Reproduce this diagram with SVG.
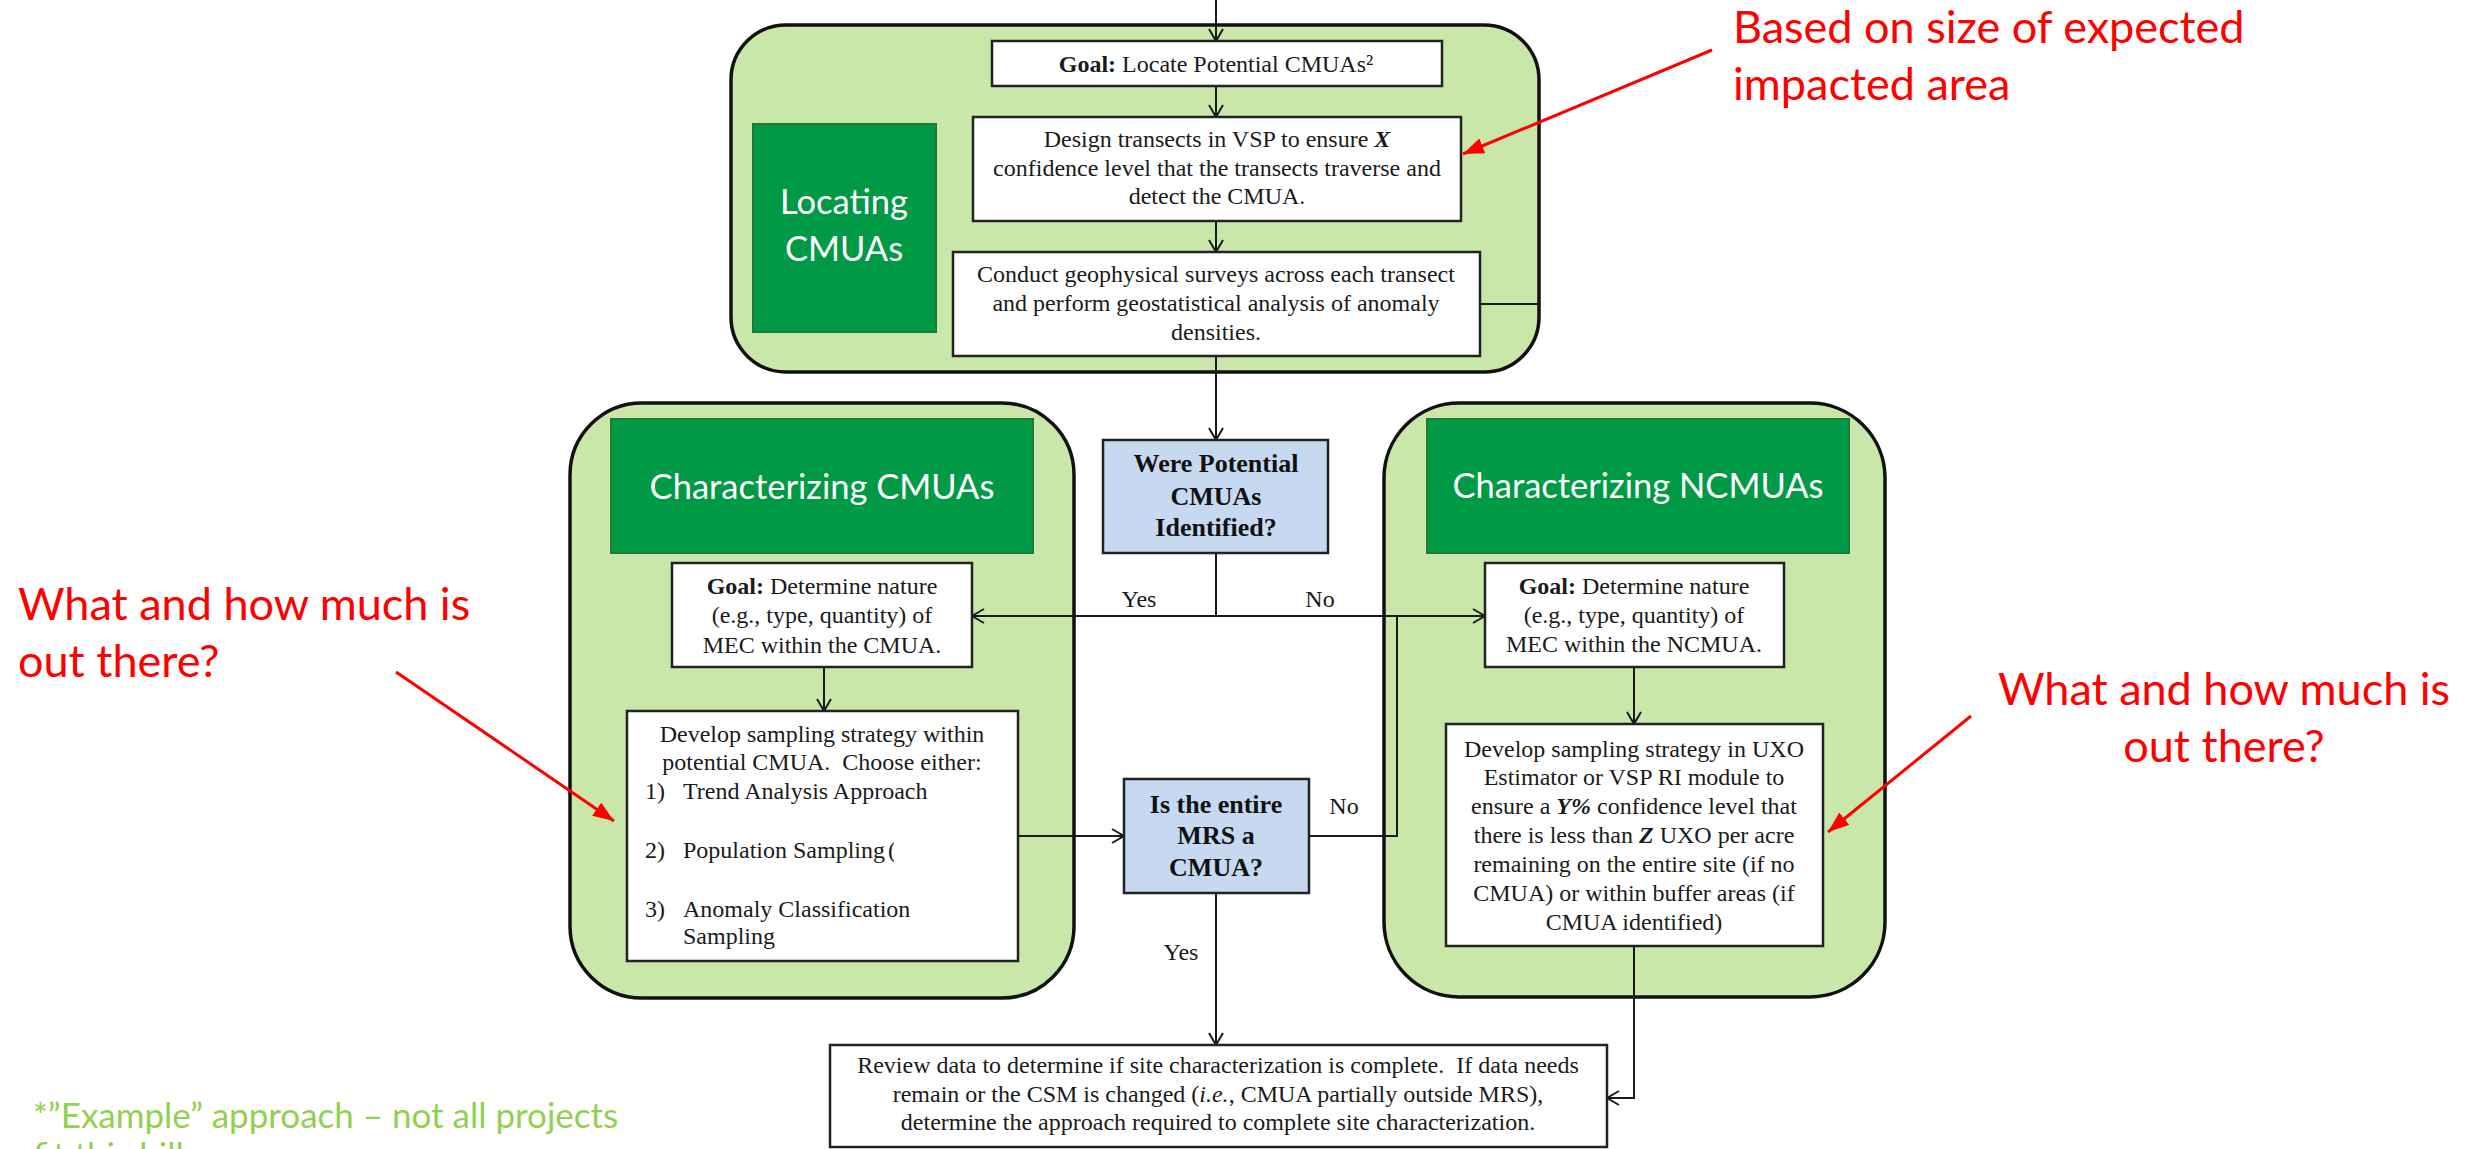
<svg xmlns="http://www.w3.org/2000/svg" width="2476" height="1149" viewBox="0 0 2476 1149">
<defs>
<style>
.cont{fill:#c9e7a9;stroke:#111;stroke-width:3.5}
.hdr{fill:#009a46;stroke:#1d7a3c;stroke-width:2}
.box{fill:#fff;stroke:#222;stroke-width:2.5}
.dec{fill:#c6d9f0;stroke:#222;stroke-width:2.5}
.t{font-family:"Liberation Serif","Times New Roman",serif;font-size:24px;fill:#1a1a1a}
.c{text-anchor:middle}
.b{font-weight:bold}
.bi{font-weight:bold;font-style:italic}
.q{font-family:"Liberation Serif","Times New Roman",serif;font-size:26px;font-weight:bold;fill:#111;text-anchor:middle}
.h{font-family:Lato,"Open Sans",sans-serif;font-size:34.5px;fill:#fff;text-anchor:middle}
.red{font-family:Lato,"Open Sans",sans-serif;font-size:45px;fill:#ff0000}
.grn{font-family:Lato,"Open Sans",sans-serif;font-size:35px;fill:#92d050}
.ln{fill:none;stroke:#1a1a1a;stroke-width:2}
.ra{fill:none;stroke:#ff0000;stroke-width:3}
</style>
<marker id="ah" markerUnits="userSpaceOnUse" markerWidth="16" markerHeight="16" refX="14" refY="8" orient="auto" viewBox="0 0 16 16">
<path d="M2,1 L14,8 L2,15" fill="none" stroke="#1a1a1a" stroke-width="2"/>
</marker>
<marker id="rh" markerUnits="userSpaceOnUse" markerWidth="22" markerHeight="16" refX="21" refY="8" orient="auto" viewBox="0 0 22 16">
<path d="M0,0 L21,8 L0,16 z" fill="#ff0000"/>
</marker>
<clipPath id="parclip"><rect x="886" y="835" width="8" height="35"/></clipPath>
</defs>
<rect width="2476" height="1149" fill="#fff"/>

<g id="locating-container">
<rect class="cont" x="731" y="25" width="808" height="347" rx="55" ry="55"/>
</g>
<g id="cmua-container">
<rect class="cont" x="570" y="403" width="504" height="595" rx="72" ry="72"/>
</g>
<g id="ncmua-container">
<rect class="cont" x="1384" y="403" width="501" height="594" rx="75" ry="75"/>
</g>

<g id="connectors">
<path class="ln" d="M1216,0 V41" marker-end="url(#ah)"/>
<path class="ln" d="M1216,86 V117" marker-end="url(#ah)"/>
<path class="ln" d="M1216,221 V252" marker-end="url(#ah)"/>
<path class="ln" d="M1216,356 V440" marker-end="url(#ah)"/>
<path class="ln" d="M1480,304 H1539"/>
<path class="ln" d="M1216,553 V616"/>
<path class="ln" d="M1216,616 H972" marker-end="url(#ah)"/>
<path class="ln" d="M1216,616 H1485" marker-end="url(#ah)"/>
<path class="ln" d="M824,667 V711" marker-end="url(#ah)"/>
<path class="ln" d="M1634,667 V724" marker-end="url(#ah)"/>
<path class="ln" d="M1018,836 H1124" marker-end="url(#ah)"/>
<path class="ln" d="M1309,836 H1397 V616"/>
<path class="ln" d="M1216,893 V1045" marker-end="url(#ah)"/>
<path class="ln" d="M1634,946 V1098 H1607" marker-end="url(#ah)"/>
<text class="t c" x="1139" y="607">Yes</text>
<text class="t c" x="1320" y="607">No</text>
<text class="t c" x="1344" y="814">No</text>
<text class="t c" x="1181" y="960">Yes</text>
</g>

<g id="locating-header">
<rect class="hdr" x="753" y="124" width="183" height="208"/>
<text class="h" x="844" y="214">Locating</text>
<text class="h" x="844" y="261">CMUAs</text>
</g>
<g id="goal-locate">
<rect class="box" x="992" y="41" width="450" height="45"/>
<text class="t c" x="1216" y="72"><tspan class="b">Goal:</tspan> Locate Potential CMUAs²</text>
</g>
<g id="design-transects">
<rect class="box" x="973" y="117" width="488" height="104"/>
<text class="t c" x="1217" y="147">Design transects in VSP to ensure <tspan class="bi">X</tspan></text>
<text class="t c" x="1217" y="176">confidence level that the transects traverse and</text>
<text class="t c" x="1217" y="204">detect the CMUA.</text>
</g>
<g id="conduct-surveys">
<rect class="box" x="953" y="252" width="527" height="104"/>
<text class="t c" x="1216" y="282">Conduct geophysical surveys across each transect</text>
<text class="t c" x="1216" y="311">and perform geostatistical analysis of anomaly</text>
<text class="t c" x="1216" y="340">densities.</text>
</g>
<g id="were-potential">
<rect class="dec" x="1103" y="440" width="225" height="113"/>
<text class="q" x="1216" y="472">Were Potential</text>
<text class="q" x="1216" y="505">CMUAs</text>
<text class="q" x="1216" y="536">Identified?</text>
</g>

<g id="cmua-header">
<rect class="hdr" x="611" y="419" width="422" height="134"/>
<text class="h" x="822" y="499">Characterizing CMUAs</text>
</g>
<g id="goal-cmua">
<rect class="box" x="672" y="563" width="300" height="104"/>
<text class="t c" x="822" y="594"><tspan class="b">Goal:</tspan> Determine nature</text>
<text class="t c" x="822" y="623">(e.g., type, quantity) of</text>
<text class="t c" x="822" y="653">MEC within the CMUA.</text>
</g>
<g id="develop-cmua">
<rect class="box" x="627" y="711" width="391" height="250"/>
<text class="t c" x="822" y="742">Develop sampling strategy within</text>
<text class="t c" x="822" y="770" xml:space="preserve">potential CMUA.  Choose either:</text>
<text class="t" x="645" y="799">1)</text>
<text class="t" x="683" y="799">Trend Analysis Approach</text>
<text class="t" x="645" y="858">2)</text>
<text class="t" x="683" y="858">Population Sampling</text>
<text class="t" x="888" y="858" clip-path="url(#parclip)">(</text>
<text class="t" x="645" y="917">3)</text>
<text class="t" x="683" y="917">Anomaly Classification</text>
<text class="t" x="683" y="944">Sampling</text>
</g>

<g id="is-entire-mrs">
<rect class="dec" x="1124" y="779" width="185" height="114"/>
<text class="q" x="1216" y="813">Is the entire</text>
<text class="q" x="1216" y="844">MRS a</text>
<text class="q" x="1216" y="876">CMUA?</text>
</g>

<g id="ncmua-header">
<rect class="hdr" x="1427" y="419" width="422" height="134"/>
<text class="h" x="1638" y="498">Characterizing NCMUAs</text>
</g>
<g id="goal-ncmua">
<rect class="box" x="1485" y="563" width="299" height="104"/>
<text class="t c" x="1634" y="594"><tspan class="b">Goal:</tspan> Determine nature</text>
<text class="t c" x="1634" y="623">(e.g., type, quantity) of</text>
<text class="t c" x="1634" y="652">MEC within the NCMUA.</text>
</g>
<g id="develop-ncmua">
<rect class="box" x="1446" y="724" width="377" height="222"/>
<text class="t c" x="1634" y="757">Develop sampling strategy in UXO</text>
<text class="t c" x="1634" y="785">Estimator or VSP RI module to</text>
<text class="t c" x="1634" y="814">ensure a <tspan class="bi">Y%</tspan> confidence level that</text>
<text class="t c" x="1634" y="843">there is less than <tspan class="bi">Z</tspan> UXO per acre</text>
<text class="t c" x="1634" y="872">remaining on the entire site (if no</text>
<text class="t c" x="1634" y="901">CMUA) or within buffer areas (if</text>
<text class="t c" x="1634" y="930">CMUA identified)</text>
</g>

<g id="review-data">
<rect class="box" x="830" y="1045" width="777" height="102"/>
<text class="t c" x="1218" y="1073" xml:space="preserve">Review data to determine if site characterization is complete.  If data needs</text>
<text class="t c" x="1218" y="1102">remain or the CSM is changed (<tspan font-style="italic">i.e.</tspan>, CMUA partially outside MRS),</text>
<text class="t c" x="1218" y="1130">determine the approach required to complete site characterization.</text>
</g>

<g id="annotations">
<text class="red" x="1733" y="43">Based on size of expected</text>
<text class="red" x="1733" y="100">impacted area</text>
<line class="ra" x1="1712" y1="50" x2="1463" y2="154" marker-end="url(#rh)"/>
<text class="red" x="18" y="620">What and how much is</text>
<text class="red" x="18" y="677">out there?</text>
<line class="ra" x1="396" y1="672" x2="614" y2="821" stroke-width="2.5" marker-end="url(#rh)"/>
<text class="red" x="2224" y="705" text-anchor="middle">What and how much is</text>
<text class="red" x="2224" y="762" text-anchor="middle">out there?</text>
<line class="ra" x1="1971" y1="716" x2="1828" y2="832" stroke-width="2.5" marker-end="url(#rh)"/>
<text class="grn" x="33" y="1128">*”Example” approach – not all projects</text>
<text class="grn" x="33" y="1168">fit this bill</text>
</g>
</svg>
